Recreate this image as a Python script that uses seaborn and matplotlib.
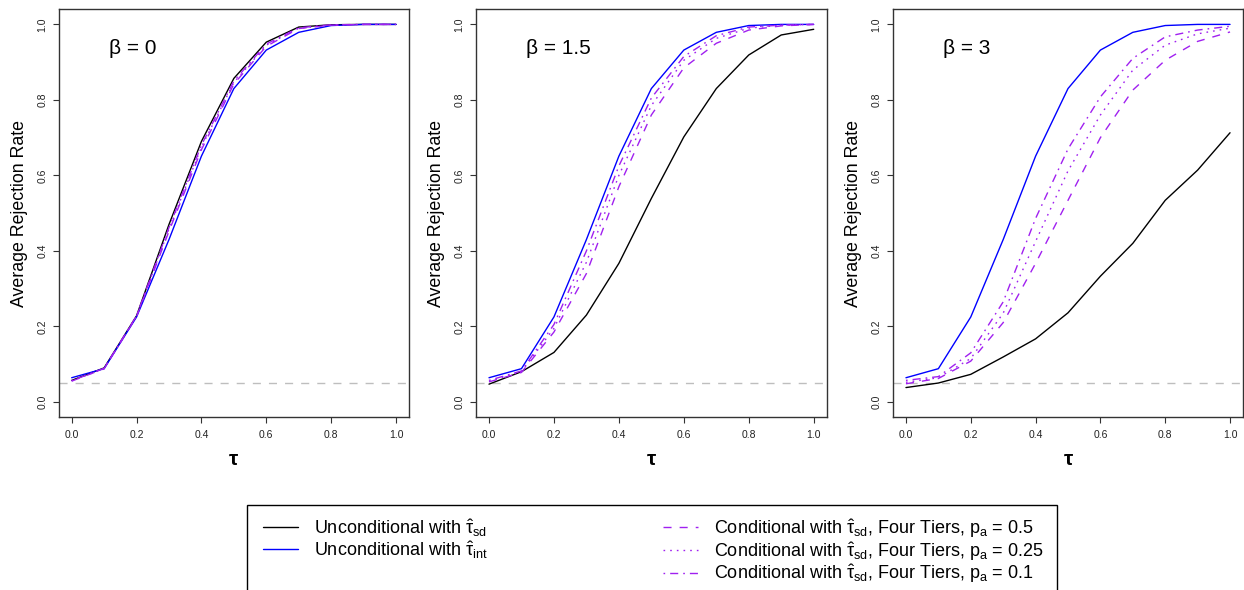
import numpy as np
import pandas as pd
import matplotlib
matplotlib.use("Agg")
import matplotlib.pyplot as plt
from matplotlib.lines import Line2D
from matplotlib.patches import Rectangle
import seaborn as sns

# tau grid
tau = [0.0, 0.1, 0.2, 0.3, 0.4, 0.5, 0.6, 0.7, 0.8, 0.9, 1.0]
betas = ["0", "1.5", "3"]

# unconditional with tau_int (same for every beta)
uncond_int = [0.064, 0.088, 0.225, 0.43, 0.651, 0.83, 0.932, 0.979, 0.997, 1.0, 1.0]

# unconditional with tau_sd
uncond_sd_b0 = [0.057, 0.090, 0.228, 0.470, 0.690, 0.857, 0.953, 0.993, 0.999, 1.0, 1.0]
uncond_sd_b15 = [0.047, 0.080, 0.131, 0.230, 0.367, 0.539, 0.702, 0.830, 0.919, 0.972, 0.987]
uncond_sd_b3 = [0.038, 0.050, 0.073, 0.119, 0.167, 0.236, 0.333, 0.420, 0.534, 0.614, 0.713]

# conditional, four tiers, p_a = 0.5 / 0.25 / 0.1
cond05_b0 = [0.055, 0.088, 0.226, 0.452, 0.668, 0.842, 0.942, 0.989, 0.998, 1.0, 1.0]
cond025_b0 = [0.056, 0.088, 0.227, 0.458, 0.675, 0.846, 0.945, 0.990, 0.998, 1.0, 1.0]
cond01_b0 = [0.056, 0.089, 0.228, 0.462, 0.680, 0.850, 0.948, 0.991, 0.999, 1.0, 1.0]

cond05_b15 = [0.053, 0.078, 0.185, 0.340, 0.570, 0.760, 0.885, 0.950, 0.985, 0.996, 1.0]
cond025_b15 = [0.055, 0.080, 0.195, 0.370, 0.600, 0.785, 0.905, 0.963, 0.990, 0.998, 1.0]
cond01_b15 = [0.057, 0.082, 0.205, 0.400, 0.625, 0.805, 0.915, 0.970, 0.993, 0.998, 1.0]

cond05_b3 = [0.048, 0.062, 0.108, 0.210, 0.367, 0.534, 0.700, 0.826, 0.905, 0.955, 0.980]
cond025_b3 = [0.052, 0.064, 0.115, 0.235, 0.425, 0.612, 0.760, 0.879, 0.945, 0.975, 0.990]
cond01_b3 = [0.057, 0.067, 0.130, 0.265, 0.486, 0.670, 0.808, 0.910, 0.967, 0.985, 0.995]

series_names = ["uncond_sd", "uncond_int", "cond_0.5", "cond_0.25", "cond_0.1"]
panel_data = {
    "0": [uncond_sd_b0, uncond_int, cond05_b0, cond025_b0, cond01_b0],
    "1.5": [uncond_sd_b15, uncond_int, cond05_b15, cond025_b15, cond01_b15],
    "3": [uncond_sd_b3, uncond_int, cond05_b3, cond025_b3, cond01_b3],
}

rows = []
for b in betas:
    for name, vals in zip(series_names, panel_data[b]):
        for t, v in zip(tau, vals):
            rows.append({"beta": b, "series": name, "tau": t, "rate": v})
df = pd.DataFrame(rows)

purple = "#A020F0"
palette = {"uncond_sd": "black", "uncond_int": "#0000FF",
           "cond_0.5": purple, "cond_0.25": purple, "cond_0.1": purple}
dashes = {"uncond_sd": "", "uncond_int": "",
          "cond_0.5": (5.8, 5.8), "cond_0.25": (1.2, 3.6), "cond_0.1": (1.2, 3.6, 5.8, 3.6)}

sns.set_style("ticks")
plt.rcParams["font.family"] = ["Liberation Sans", "DejaVu Sans"]
plt.rcParams["mathtext.fontset"] = "custom"
plt.rcParams["mathtext.rm"] = "Liberation Sans"
plt.rcParams["mathtext.it"] = "Liberation Sans:italic"
plt.rcParams["mathtext.bf"] = "Liberation Sans:bold"
plt.rcParams["text.color"] = "black"
plt.rcParams["axes.labelcolor"] = "black"

fig = plt.figure(figsize=(12.44, 5.9), dpi=100)
lefts = [58.7 / 1244, 476 / 1244, 893 / 1244]
widths = [350.3 / 1244, 350.7 / 1244, 350 / 1244]
bottom = 1 - 417 / 590
height = 407.7 / 590

for i, b in enumerate(betas):
    ax = fig.add_axes([lefts[i], bottom, widths[i], height])
    sub = df[df["beta"] == b]
    sns.lineplot(data=sub, x="tau", y="rate", hue="series", style="series",
                 hue_order=series_names, style_order=series_names,
                 palette=palette, dashes=dashes, linewidth=1.0,
                 legend=False, ax=ax)
    ax.axhline(0.05, color="#BEBEBE", lw=1.0, dashes=(5.8, 5.8), zorder=0)
    ax.set_xlim(-0.04, 1.04)
    ax.set_ylim(-0.04, 1.04)
    ax.set_xticks([0.0, 0.2, 0.4, 0.6, 0.8, 1.0])
    ax.set_yticks([0.0, 0.2, 0.4, 0.6, 0.8, 1.0])
    ax.set_xticklabels(["0.0", "0.2", "0.4", "0.6", "0.8", "1.0"])
    ax.set_yticklabels(["0.0", "0.2", "0.4", "0.6", "0.8", "1.0"])
    ax.tick_params(axis="both", labelsize=7.5, length=4.3, width=0.8,
                   color="#333333", labelcolor="#222222")
    ax.tick_params(axis="x", pad=5)
    ax.tick_params(axis="y", pad=4, labelrotation=90)
    for lab in ax.get_yticklabels():
        lab.set_va("center")
    for sp in ax.spines.values():
        sp.set_visible(True)
        sp.set_color("#333333")
        sp.set_linewidth(1.0)
    ax.set_xlabel("τ", fontsize=15, fontweight="bold")
    ax.xaxis.set_label_coords(0.5, -0.105)
    ax.xaxis.label.set_va("center")
    ax.set_ylabel("Average Rejection Rate", fontsize=12.8)
    ax.yaxis.set_label_coords(-0.113, 0.5)
    ax.yaxis.label.set_va("center")
    ax.text(0.115, 0.937, "β = " + b, fontsize=15, va="center", ha="left")

# legend
tsd = r"$\hat{\mathrm{\tau}}_{\mathrm{sd}}$"
tint = r"$\hat{\mathrm{\tau}}_{\mathrm{int}}$"
pa = r"$\mathrm{p_a}$"
h1 = [Line2D([], [], color=palette[s], lw=1.0) for s in series_names[:2]]
l1 = ["Unconditional with " + tsd, "Unconditional with " + tint]
h2 = [Line2D([], [], color=purple, lw=1.0, dashes=dashes[s]) for s in series_names[2:]]
l2 = ["Conditional with " + tsd + ", Four Tiers, " + pa + " = 0.5",
      "Conditional with " + tsd + ", Four Tiers, " + pa + " = 0.25",
      "Conditional with " + tsd + ", Four Tiers, " + pa + " = 0.1"]

leg_kw = dict(loc="upper left", frameon=False, fontsize=13, handlelength=1.95,
              handletextpad=0.88, borderpad=0, borderaxespad=0, labelspacing=0.0)
fig.legend(h1, l1, bbox_to_anchor=(262.7 / 1244, 1 - 517 / 590), **leg_kw)
fig.legend(h2, l2, bbox_to_anchor=(662.7 / 1244, 1 - 517 / 590), **leg_kw)
fig.add_artist(Rectangle((246.7 / 1244, -0.1), (1056.7 - 246.7) / 1244, 1 - 504.5 / 590 + 0.1,
                         transform=fig.transFigure, fill=False, edgecolor="black", lw=1.0))

fig.savefig("out.png", dpi=100)
